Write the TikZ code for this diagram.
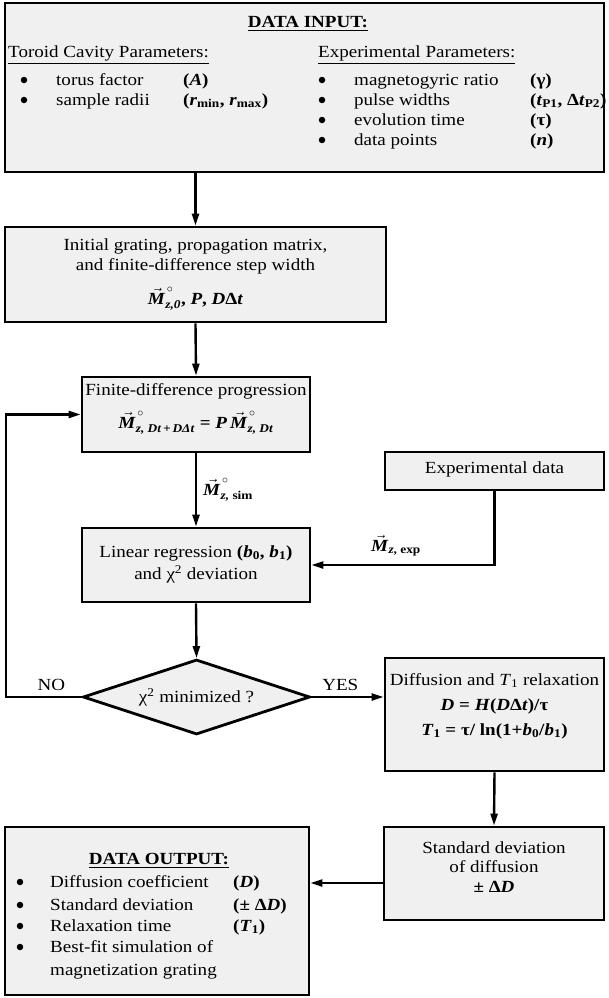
\documentclass[tikz,border=0pt]{standalone}
\usepackage{fontspec}
\setmainfont{Liberation Serif}[FakeStretch=1.12]
\usepackage{amsmath}
\usetikzlibrary{shapes.geometric,arrows.meta}
\definecolor{boxgray}{RGB}{240,240,240}
\newcommand{\bi}[1]{\textbf{\textit{#1}}}
\newcommand{\Mv}{\vec{\text{\bi{M}}}}
\newcommand{\dg}{{\kern1.5pt\circ}}
\newcommand{\fs}{\fontsize{17}{20}\selectfont}
\begin{document}
\begin{tikzpicture}[x=1pt,y=-1pt,font=\fs,
  box/.style={draw,line width=2.8pt,fill=boxgray,inner sep=0pt},
  txt/.style={inner sep=0pt,anchor=mid},
  lft/.style={inner sep=0pt,anchor=mid west},
  dot/.style={circle,fill=black,inner sep=0pt,minimum size=6.5pt},
  arr/.style={line width=2.4pt,-{Triangle[length=12pt,width=7pt]}}]
\useasboundingbox (0,0) rectangle (609,998);

% boxes
\node[box,minimum width=599pt,minimum height=169pt] (in) at (304.5,87.5) {};
\node[box,minimum width=381pt,minimum height=95pt] (init) at (195.5,274.5) {};
\node[box,minimum width=228pt,minimum height=75pt] (fdp) at (196,414.5) {};
\node[box,minimum width=219pt,minimum height=38pt] (expd) at (494.5,471) {};
\node[box,minimum width=228pt,minimum height=74pt] (lin) at (196,565) {};
\node[box,diamond,aspect=3.03,minimum width=227pt,minimum height=75pt] (dia) at (196.5,697) {χ\textsuperscript{2} minimized ?};
\node[box,minimum width=219pt,minimum height=113pt] (dif) at (494.5,714.5) {};
\node[box,minimum width=220pt,minimum height=93pt] (sd) at (494,873.5) {};
\node[box,minimum width=304pt,minimum height=168pt] (out) at (157,911) {};

% data input text
\node[txt] (inT) at (308,25) {\textbf{\underline{DATA INPUT:}}};
\node[lft] (tcp) at (8,55) {\underline{Toroid Cavity Parameters:}};
\node[lft] (epp) at (318,55) {\underline{Experimental Parameters:}};
\node[dot] (lb1) at (24,80) {};
\node[dot] (lb2) at (24,100) {};
\node[lft] (lt1) at (56,83) {torus factor};
\node[lft] (lt2) at (56,103) {sample radii};
\node[lft] (lp1) at (183,83) {\textbf{(}\bi{A}\textbf{)}};
\node[lft] (lp2) at (183,103) {\textbf{(}\bi{r}\textsubscript{\textbf{min}}\textbf{, }\bi{r}\textsubscript{\textbf{max}}\textbf{)}};
\node[dot] (rb1) at (322,80) {};
\node[dot] (rb2) at (322,100) {};
\node[dot] (rb3) at (322,120) {};
\node[dot] (rb4) at (322,140) {};
\node[lft] (rt1) at (354,83) {magnetogyric ratio};
\node[lft] (rt2) at (354,103) {pulse widths};
\node[lft] (rt3) at (354,123) {evolution time};
\node[lft] (rt4) at (354,143) {data points};
\node[lft] (rp1) at (530,83) {\textbf{(γ)}};
\node[lft] (rp2) at (530,103) {\textbf{(}\bi{t}\textsubscript{\textbf{P1}}\textbf{, Δ}\bi{t}\textsubscript{\textbf{P2}}\textbf{)}};
\node[lft] (rp3) at (530,123) {\textbf{(τ)}};
\node[lft] (rp4) at (530,143) {\textbf{(}\bi{n}\textbf{)}};

% init text
\node[txt] (i1) at (195.5,248) {Initial grating, propagation matrix,};
\node[txt] (i2) at (195.5,268) {and finite-difference step width};
\node[txt] (i3) at (195.5,302) {$\Mv^{\dg}_{\text{\bi{z,0}}}$\textbf{, \textit{P}, \textit{D}Δ\textit{t}}};

% fdp text
\node[txt] (f1) at (196,393) {Finite-difference progression};
\node[txt] (f2) at (196,426) {$\Mv^{\dg}_{\text{\bi{z, Dt\,+\,DΔt}}}\text{\textbf{ = }}\text{\bi{P}}\,\Mv^{\dg}_{\text{\bi{z, Dt}}}$};

% experimental data
\node[txt] (e1) at (494.5,471) {Experimental data};

% linear regression
\node[txt] (r1) at (196,555) {Linear regression \textbf{(}\bi{b}\textsubscript{\textbf{0}}\textbf{, }\bi{b}\textsubscript{\textbf{1}}\textbf{)}};
\node[txt] (r2) at (196,577) {and χ\textsuperscript{2} deviation};

% diffusion
\node[txt] (d1) at (494.5,683) {Diffusion and \textit{T}\textsubscript{1} relaxation};
\node[txt] (d2) at (494.5,708) {\bi{D}\textbf{ = }\bi{H}\textbf{(}\bi{D}\textbf{Δ}\bi{t}\textbf{)/τ}};
\node[txt] (d3) at (494.5,733) {\bi{T}\textsubscript{\textbf{1}}\textbf{ = τ/ ln(1+}\bi{b}\textsubscript{\textbf{0}}\textbf{/}\bi{b}\textsubscript{\textbf{1}}\textbf{)}};

% std deviation
\node[txt] (s1) at (494,851) {Standard deviation};
\node[txt] (s2) at (494,870) {of diffusion};
\node[txt] (s3) at (494,890) {\textbf{± Δ}\bi{D}};

% data output
\node[txt] (oT) at (159,862) {\textbf{\underline{DATA OUTPUT:}}};
\node[dot] (ob1) at (20,882) {};
\node[dot] (ob2) at (20,905) {};
\node[dot] (ob3) at (20,926) {};
\node[dot] (ob4) at (20,947) {};
\node[lft] (ot1) at (50,885) {Diffusion coefficient};
\node[lft] (ot2) at (50,908) {Standard deviation};
\node[lft] (ot3) at (50,929) {Relaxation time};
\node[lft] (ot4) at (50,950) {Best-fit simulation of};
\node[lft] (ot5) at (50,973) {magnetization grating};
\node[lft] (op1) at (233,885) {\textbf{(}\bi{D}\textbf{)}};
\node[lft] (op2) at (233,908) {\textbf{(± Δ}\bi{D}\textbf{)}};
\node[lft] (op3) at (233,929) {\textbf{(}\bi{T}\textsubscript{\textbf{1}}\textbf{)}};

% connectors
\draw[arr] (init.north |- in.south) -- (init.north);
\draw[arr] (init.south) -- (fdp.north);
\draw[arr] (fdp.south) -- node[right,inner sep=0pt,xshift=6pt] (lsim) {$\Mv^{\dg}_{\text{\bfseries\itshape z,}\text{\bfseries\ sim}}$} (lin.north);
\draw[arr] (lin.south) -- (dia.north);
\coordinate (expc) at (expd.south |- lin.east);
\draw[arr] (expd.south) -- (expc) -- (lin.east);
\node[txt] (lexp) at (396,549) {$\Mv_{\text{\bfseries\itshape z}\text{\bfseries, exp}}$};
\draw[arr] (dia.east) -- node[above,pos=0.4,inner sep=0pt,yshift=5pt] (lyes) {YES} (dia.east -| dif.west);
\coordinate (loopc) at (6,697);
\draw[arr] (dia.west) -- node[above,pos=0.4,inner sep=0pt,yshift=5pt] (lno) {NO} (loopc) |- (fdp.west);
\draw[arr] (dif.south) -- (sd.north);
\draw[arr] ([yshift=-9.5pt]sd.west) -- ([yshift=-9.5pt]sd.west -| out.east);
\end{tikzpicture}
\end{document}
